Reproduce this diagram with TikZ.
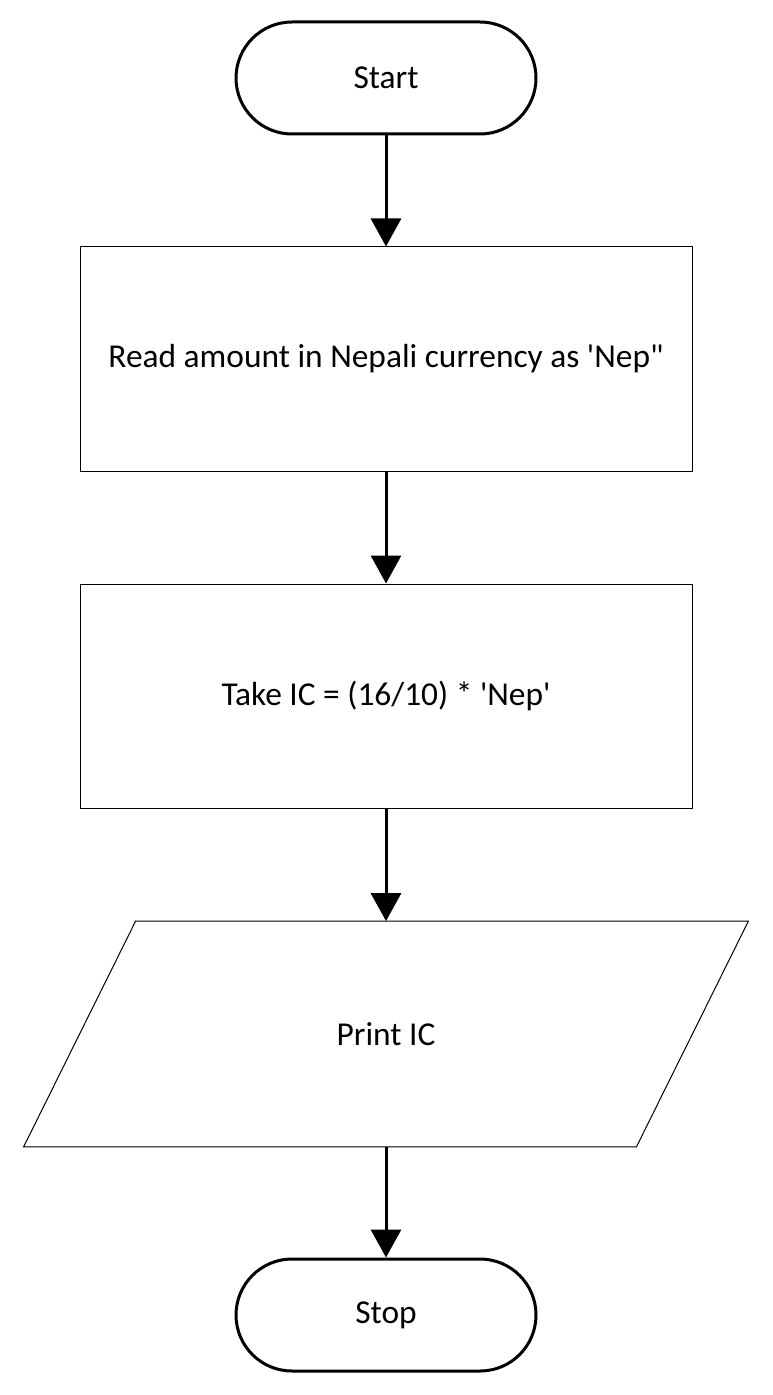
\documentclass[tikz,border=0pt]{standalone}
\usepackage{fontspec}
\setmainfont{Carlito}
\usetikzlibrary{arrows.meta}

\tikzset{
  terminal/.style={draw,line width=1.5pt,rounded corners=28pt,minimum width=150pt,minimum height=56pt},
  process/.style={draw,line width=0.5pt,minimum width=306pt,minimum height=112pt},
  io/.style={minimum width=306pt,minimum height=112.5pt},
  flow/.style={line width=1.5pt,-{Triangle[width=15pt,length=14pt]}}
}

\begin{document}
\begin{tikzpicture}[x=0.5pt,y=-0.5pt,font=\fontsize{16.7pt}{20pt}\selectfont]
\useasboundingbox (0,0) rectangle (772,1395);
\node[terminal] (start) at (386,78) {Start};
\node[process] (read) at (386,359) {Read amount in Nepali currency as \textquotesingle Nep\textquotedbl};
\node[process] (take) at (386,696) {Take IC = (16/10) * \textquotesingle Nep\textquotesingle};
\node[io] (print) at (386,1034) {Print IC};
% slanted sides of the output box
\draw[line width=0.5pt] ([xshift=28pt]print.north west) -- ([xshift=28pt]print.north east)
  -- ([xshift=-28pt]print.south east) -- ([xshift=-28pt]print.south west) -- cycle;
\node[terminal] (stop) at (386,1315) {Stop};
\draw[flow] (start) -- (read);
\draw[flow] (read) -- (take);
\draw[flow] (take) -- (print);
\draw[flow] (print) -- (stop);
\end{tikzpicture}
\end{document}
